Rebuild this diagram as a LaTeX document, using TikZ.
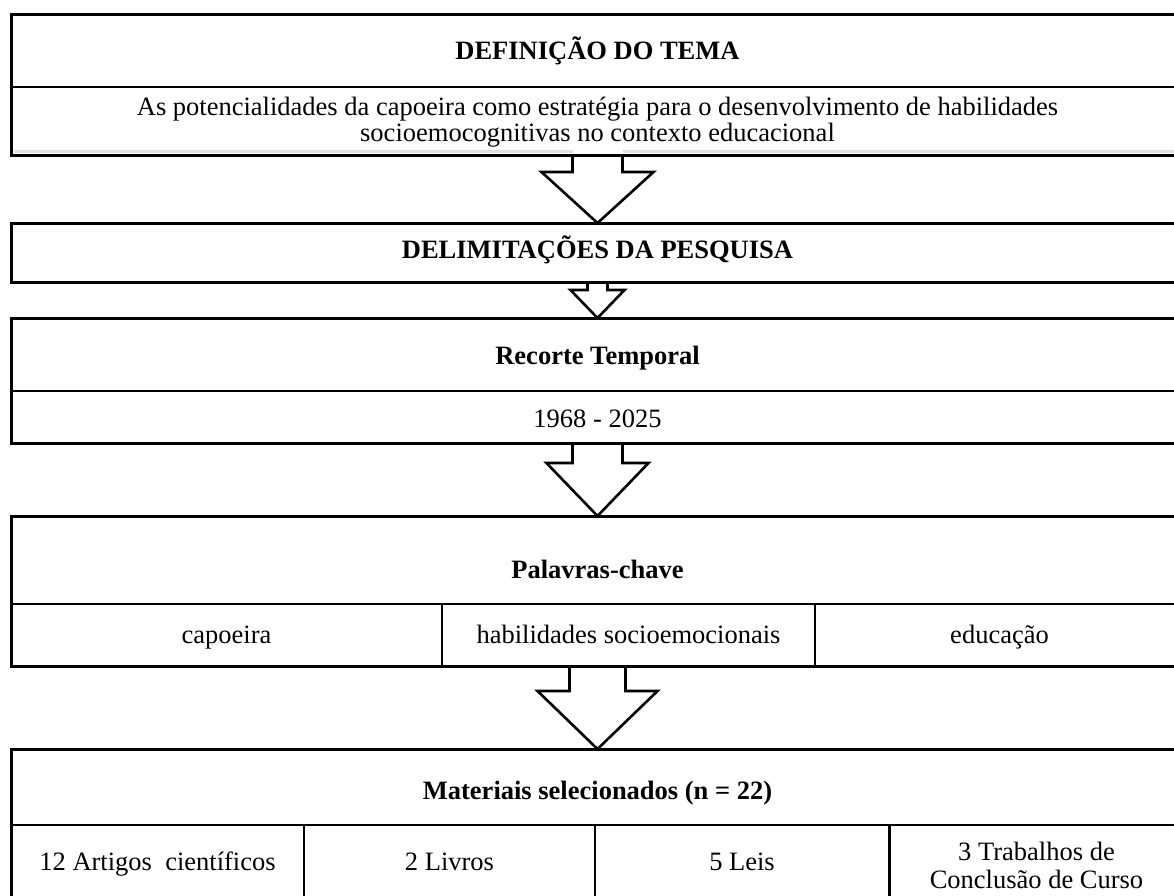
\documentclass[tikz,border=0pt]{standalone}
\usepackage{fontspec}
\setmainfont{Liberation Serif}
\begin{document}
\begin{tikzpicture}[x=1pt,y=-1pt,
  frame/.style={draw, line width=3pt, outer sep=0pt, inner sep=0pt, anchor=north west, minimum width=1173pt},
  rule/.style={line width=1.8pt},
  shade/.style={line width=3pt, black!12},
  ttl/.style={font=\fontsize{26.5}{26}\selectfont\bfseries, inner sep=0pt, anchor=base},
  txt/.style={font=\fontsize{26.5}{26}\selectfont, align=center, inner sep=0pt, anchor=base},
  arr/.style={line width=2.6pt, line join=miter}]
\useasboundingbox (0,0) rectangle (1174,895);
\clip (0,0) rectangle (1174,895);
\fill[white] (0,0) rectangle (1174,895);
% boxes
\node[frame, minimum height=141pt] (b1) at (11,14) {};
\node[frame, minimum height=59pt] (b2) at (11,223) {};
\node[frame, minimum height=125pt] (b3) at (11,318) {};
\node[frame, minimum height=150pt] (b4) at (11,516) {};
\node[frame, minimum height=160pt] (b5) at (11,749) {};
% faint shading along the bottom of the first box
\draw[shade] ([xshift=3pt,yshift=4pt]b1.south west) -- ([xshift=-25pt,yshift=4pt]b1.south);
\draw[shade] ([xshift=25pt,yshift=4pt]b1.south) -- ([yshift=4pt]b1.south east);
% inner rules
\draw[rule] ([yshift=-73pt]b1.north west) -- ([yshift=-73pt]b1.north east);
\draw[rule] ([yshift=-73pt]b3.north west) -- ([yshift=-73pt]b3.north east);
\draw[rule] ([yshift=-88pt]b4.north west) -- ([yshift=-88pt]b4.north east);
\draw[rule] (442,604) -- (442,666);
\draw[rule] (815,604) -- (815,666);
\draw[rule] ([yshift=-76pt]b5.north west) -- ([yshift=-76pt]b5.north east);
\draw[rule] (304,825) -- (304,909);
\draw[rule] (595,825) -- (595,909);
\draw[line width=3pt] (889,825) -- (889,909);
% texts
\node[ttl] (t1) at (597.5,59) {DEFINIÇÃO DO TEMA};
\node[txt] (t1b) at (597.5,141) {As potencialidades da capoeira como estratégia para o desenvolvimento de habilidades\\socioemocognitivas no contexto educacional};
\node[ttl] (t2) at (597.5,258) {DELIMITAÇÕES DA PESQUISA};
\node[ttl] (t3) at (597.5,364) {Recorte Temporal};
\node[txt] (t3b) at (597.5,427) {1968 - 2025};
\node[ttl] (t4) at (597.5,578) {Palavras-chave};
\node[txt] (k1) at (226.5,643) {capoeira};
\node[txt] (k2) at (628.5,643) {habilidades socioemocionais};
\node[txt] (k3) at (999.5,643) {educação};
\node[ttl] (t5) at (597.5,799) {Materiais selecionados (n = 22)};
\node[txt] (m1) at (157.5,870) {12 Artigos\ \ científicos};
\node[txt] (m2) at (449.5,870) {2 Livros};
\node[txt] (m3) at (742,870) {5 Leis};
\node[txt, font=\fontsize{26.5}{28}\selectfont] (m4) at (1036.5,888) {3 Trabalhos de\\Conclusão de Curso};
% block arrows
\newcommand\blockarrow[5]{%
  \draw[arr] ([xshift=-#3]#1.south) -- ([xshift=-#3,yshift=-#5]#1.south)
    -- ([xshift=-#4,yshift=-#5]#1.south) -- (#2.north)
    -- ([xshift=#4,yshift=-#5]#1.south) -- ([xshift=#3,yshift=-#5]#1.south)
    -- ([xshift=#3]#1.south);}
\blockarrow{b1}{b2}{25pt}{56pt}{17pt}
\blockarrow{b2}{b3}{10pt}{27pt}{8pt}
\blockarrow{b3}{b4}{25pt}{51pt}{20pt}
\blockarrow{b4}{b5}{28pt}{60pt}{25pt}
\end{tikzpicture}
\end{document}
